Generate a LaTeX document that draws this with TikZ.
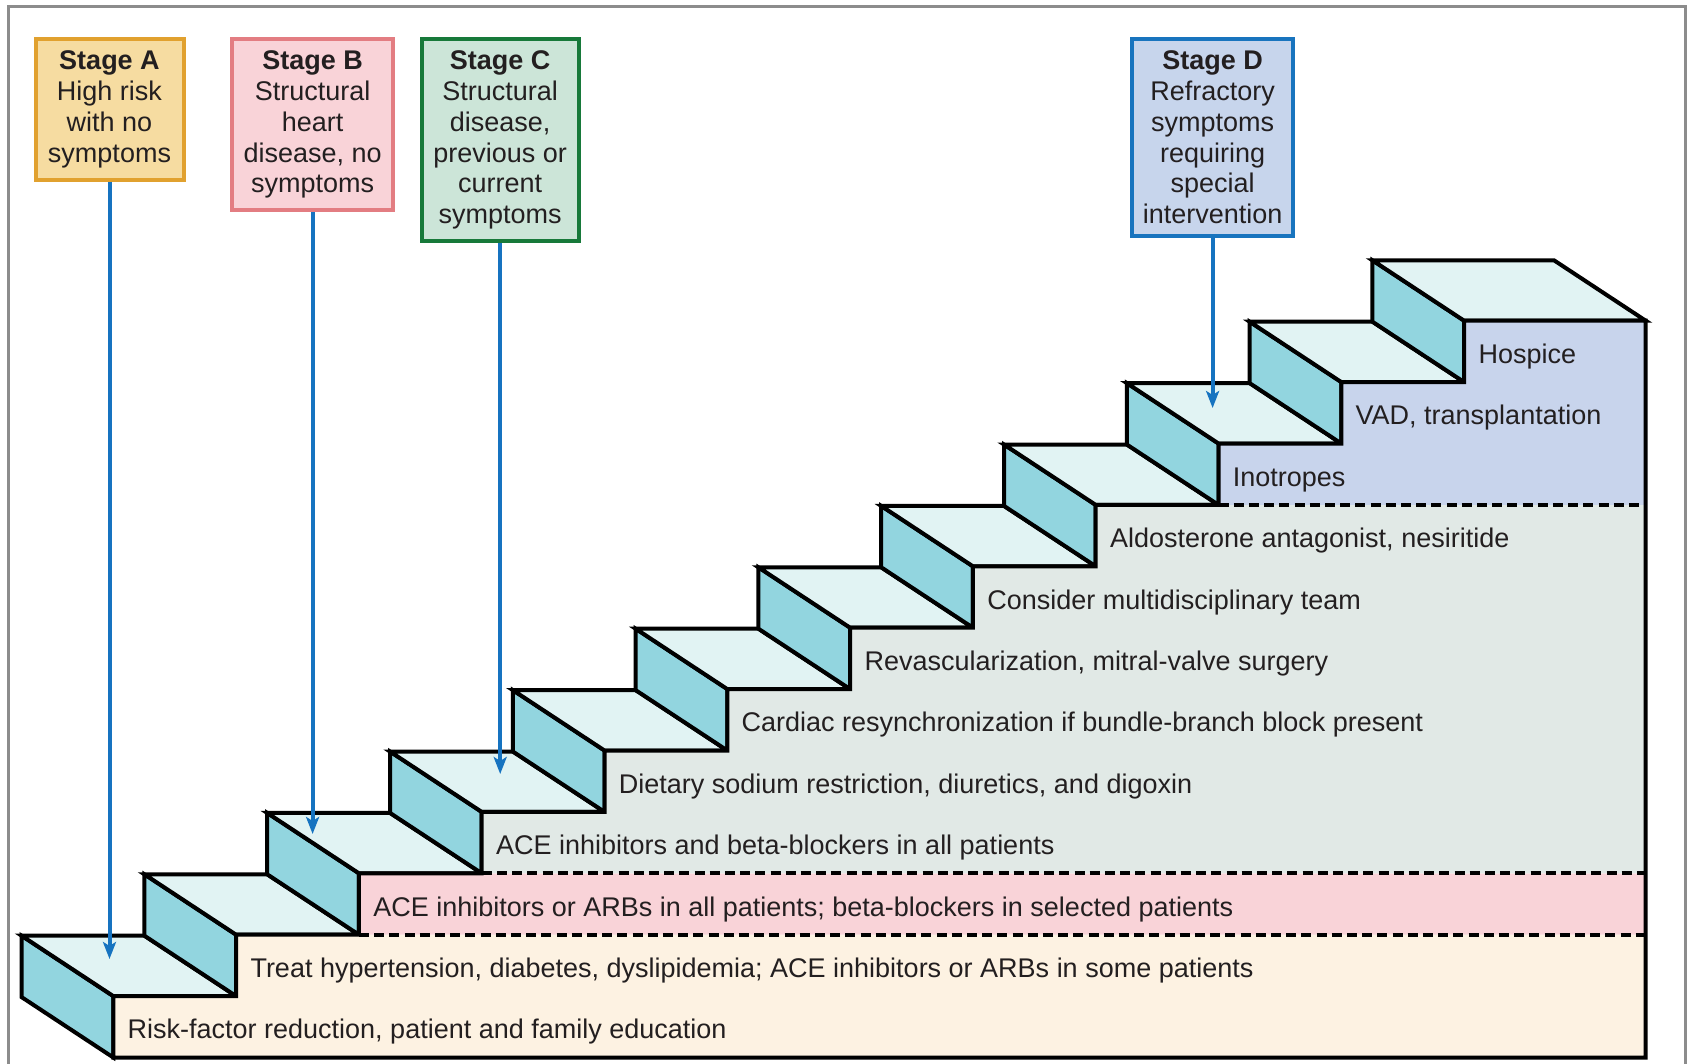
\documentclass[tikz,border=0pt]{standalone}
\usepackage{fontspec}
\setmainfont{Liberation Sans}
\usetikzlibrary{arrows.meta}
\definecolor{inkdark}{HTML}{231F20}
\definecolor{framegray}{HTML}{8C8C8C}
\definecolor{treadcol}{HTML}{E1F3F3}
\definecolor{risercol}{HTML}{92D5DF}
\definecolor{bandbeige}{HTML}{FDF2E2}
\definecolor{bandpink}{HTML}{F9D3D8}
\definecolor{bandgray}{HTML}{E1E9E6}
\definecolor{bandblue}{HTML}{C8D4EC}
\definecolor{fillA}{HTML}{F6DCA1}
\definecolor{edgeA}{HTML}{E1A12F}
\definecolor{fillB}{HTML}{F9D3D8}
\definecolor{edgeB}{HTML}{E37D82}
\definecolor{fillC}{HTML}{CCE5D8}
\definecolor{edgeC}{HTML}{17793A}
\definecolor{fillD}{HTML}{C7D5EC}
\definecolor{edgeD}{HTML}{1874BE}
\definecolor{arrowblue}{HTML}{1673C0}
\tikzset{
  stagebox/.style={draw=#1, line width=2pt, anchor=north, align=center,
    text=inkdark, inner xsep=3pt, inner ysep=6pt,
    font=\fontsize{13.5}{15.4}\selectfont},
  stairline/.style={line width=2pt, line join=miter},
  stairdash/.style={line width=2pt, dash pattern=on 5pt off 2.6pt},
  steplabel/.style={anchor=base west, inner sep=0pt, text=inkdark,
    font=\fontsize{13.5}{15.4}\selectfont},
  stagearrow/.style={arrowblue, line width=2pt,
    -{Stealth[length=8.5pt,width=6.5pt,inset=2pt]}}
}
\begin{document}
\begin{tikzpicture}[x=0.5pt,y=-0.5pt]
  \useasboundingbox (0,0) rectangle (1692,1064);
  \draw[framegray, line width=1.5pt] (8.6,1080) -- (8.6,6.5) -- (1685.6,6.5) -- (1685.6,1080);

  \foreach \k in {0,...,11} {
    \pgfmathsetmacro{\xl}{21.6+122.8*\k}
    \pgfmathsetmacro{\yt}{997.1-61.4*(\k+1)}
    \pgfmathsetmacro{\xr}{\k==11 ? 1554 : 21.6+122.8*(\k+1)}
    \filldraw[stairline, fill=risercol] (\xl,\yt) -- (\xl,\yt+61.4) -- (\xl+91.7,\yt+121.8) -- (\xl+91.7,\yt+60.4) -- cycle;
    \filldraw[stairline, fill=treadcol] (\xl,\yt) -- (\xr,\yt) -- (\xr+91.7,\yt+60.4) -- (\xl+91.7,\yt+60.4) -- cycle;
  }

  \fill[bandbeige] (113.3,1057.5) foreach \k in {0,1} { -- (113.3+122.8*\k,996.1-61.4*\k) -- (236.1+122.8*\k,996.1-61.4*\k) } -- (1645.7,934.7) -- (1645.7,1057.5) -- cycle;
  \fill[bandpink] (358.9,934.7) -- (358.9,873.3) -- (481.7,873.3) -- (1645.7,873.3) -- (1645.7,934.7) -- cycle;
  \fill[bandgray] (481.7,873.3) foreach \k in {3,...,8} { -- (113.3+122.8*\k,996.1-61.4*\k) -- (236.1+122.8*\k,996.1-61.4*\k) } -- (1645.7,504.9) -- (1645.7,873.3) -- cycle;
  \fill[bandblue] (1218.5,504.9) foreach \k in {9,10} { -- (113.3+122.8*\k,996.1-61.4*\k) -- (236.1+122.8*\k,996.1-61.4*\k) } -- (1464.1,320.7) -- (1645.7,320.7) -- (1645.7,504.9) -- cycle;

  \draw[stairdash] (358.9,934.7) -- (1645.7,934.7);
  \draw[stairdash] (481.7,873.3) -- (1645.7,873.3);
  \draw[stairdash] (1218.5,504.9) -- (1645.7,504.9);
  \draw[stairline] (113.3,1057.5) foreach \k in {0,...,10} { -- (113.3+122.8*\k,996.1-61.4*\k) -- (236.1+122.8*\k,996.1-61.4*\k) } -- (1464.1,320.7) -- (1645.7,320.7) -- (1645.7,1057.5) -- cycle;

  \foreach \k/\txt in {
      0/{Risk-factor reduction, patient and family education},
      1/{Treat hypertension, diabetes, dyslipidemia; ACE inhibitors or ARBs in some patients},
      2/{ACE inhibitors or ARBs in all patients; beta-blockers in selected patients},
      3/{ACE inhibitors and beta-blockers in all patients},
      4/{Dietary sodium restriction, diuretics, and digoxin},
      5/{Cardiac resynchronization if bundle-branch block present},
      6/{Revascularization, mitral-valve surgery},
      7/{Consider multidisciplinary team},
      8/{Aldosterone antagonist, nesiritide},
      9/{Inotropes},
      10/{VAD, transplantation},
      11/{Hospice}} {
    \node[steplabel] (step\k) at (127.3+122.8*\k,1038.8-61.4*\k) {\txt};
  }

  \node[stagebox=edgeA, fill=fillA, minimum width=74pt] (stageA) at (109.5,36.8)
    {\textbf{Stage A}\\High risk\\with no\\symptoms};
  \node[stagebox=edgeB, fill=fillB, minimum width=80.6pt] (stageB) at (312.6,36.8)
    {\textbf{Stage B}\\Structural\\heart\\disease, no\\symptoms};
  \node[stagebox=edgeC, fill=fillC, minimum width=78.4pt] (stageC) at (500.2,36.8)
    {\textbf{Stage C}\\Structural\\disease,\\previous or\\current\\symptoms};
  \node[stagebox=edgeD, fill=fillD, minimum width=80.5pt] (stageD) at (1212.6,36.8)
    {\textbf{Stage D}\\Refractory\\symptoms\\requiring\\special\\intervention};

  \coordinate (tipA) at (109.5,959);
  \coordinate (tipB) at (312.6,834);
  \coordinate (tipC) at (500.2,774);
  \coordinate (tipD) at (1212.6,408);
  \draw[stagearrow] (stageA.south) -- (tipA);
  \draw[stagearrow] (stageB.south) -- (tipB);
  \draw[stagearrow] (stageC.south) -- (tipC);
  \draw[stagearrow] (stageD.south) -- (tipD);
\end{tikzpicture}
\end{document}
